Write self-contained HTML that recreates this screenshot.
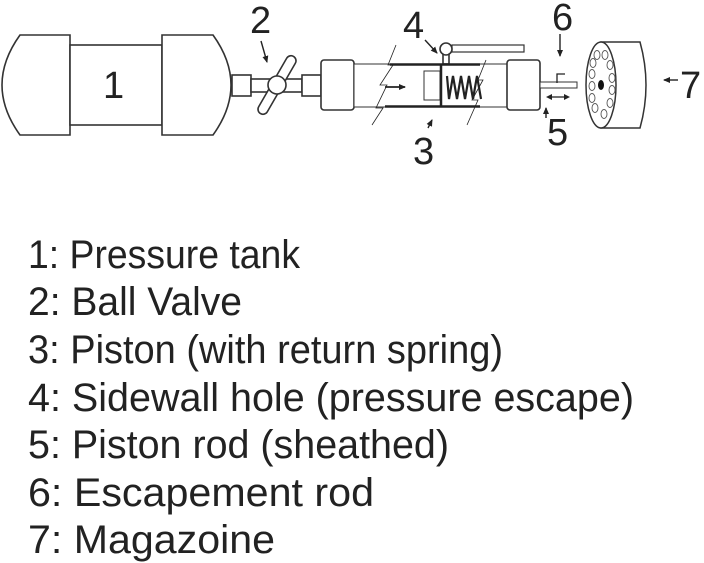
<!DOCTYPE html>
<html><head><style>
html,body{margin:0;padding:0;background:#fff;}
svg{display:block;}
text{font-family:"Liberation Sans",sans-serif;fill:#222;}
</style></head><body>
<svg width="704" height="563" viewBox="0 0 704 563" xmlns="http://www.w3.org/2000/svg">
<defs><marker id="ah" markerWidth="8" markerHeight="8" refX="6" refY="4" orient="auto" markerUnits="userSpaceOnUse"><path d="M0,1 L7,4 L0,7 Z" fill="#222"/></marker></defs>
<g fill="#fff" stroke="#333" stroke-width="1.6">
<path d="M70,35 L20,35 Q2,60 2,85 Q2,110 20,135 L70,135 Z"/>
<rect x="70" y="45" width="92" height="80"/>
<path d="M162,35 L213,35 Q231,60 231,85 Q231,110 213,135 L162,135 Z"/>
<rect x="232" y="75" width="19" height="21"/>
<rect x="251" y="79" width="51" height="13"/>
<rect x="302" y="75" width="19" height="21"/>
<rect x="272" y="52" width="10" height="66" rx="5" transform="rotate(30 277 85)"/>
<circle cx="277" cy="85" r="9"/>
<rect x="321" y="60" width="33" height="50" rx="3"/>
<rect x="354" y="64" width="153" height="43" stroke-width="1"/>
<rect x="507" y="60" width="33" height="50" rx="3"/>
<rect x="540" y="82" width="37" height="6" stroke-width="1"/>
<rect x="452" y="45" width="72" height="7" stroke-width="1.2"/>
<rect x="443" y="54" width="6" height="10"/>
<circle cx="446" cy="49" r="6"/>
<rect x="424" y="71" width="16" height="29" stroke-width="1"/>
</g>
<g stroke="#222" fill="none">
<line x1="390" y1="64.5" x2="480" y2="64.5" stroke-width="2.5"/>
<line x1="385" y1="106.5" x2="480" y2="106.5" stroke-width="2.5"/>
<line x1="441" y1="64" x2="441" y2="107" stroke-width="2.5"/>
<path d="M447,76 L449,99 L453,76 L457,99 L461,76 L465,99 L469,76 L473,99 L477,76 L481,99" stroke-width="2.2"/>
<path d="M396,45 L388,65 L393,65 L380,85 L387,85 L376,108 L383,108 L372,125" stroke-width="0.8"/>
<path d="M486,60 L478,80 L483,80 L472,100 L478,100 L467,125" stroke-width="0.8"/>
<line x1="385" y1="87" x2="405" y2="87" stroke-width="1.8" marker-end="url(#ah)"/>
<path d="M557,83 L557,74 L565,74" stroke-width="1.3"/>
<line x1="551" y1="97" x2="565" y2="97" stroke-width="1.3"/>
<line x1="560" y1="34" x2="560" y2="56" stroke-width="1.4" marker-end="url(#ah)"/>
<line x1="546" y1="118" x2="546" y2="108" stroke-width="1.4" marker-end="url(#ah)"/>
<line x1="425" y1="40" x2="437" y2="53" stroke-width="1.4" marker-end="url(#ah)"/>
<line x1="428" y1="128" x2="432" y2="120" stroke-width="1.4" marker-end="url(#ah)"/>
<line x1="261" y1="41" x2="267" y2="62" stroke-width="1.4" marker-end="url(#ah)"/>
<line x1="678" y1="80" x2="664" y2="80" stroke-width="1.4" marker-end="url(#ah)"/>
</g>
<path d="M546,97 L552,94 L552,100 Z M570,97 L564,94 L564,100 Z" fill="#222"/>
<g stroke="#333" stroke-width="1.5" fill="#fff">
<path d="M601,42 L640,42 Q652,85 640,128 L601,128 Z"/>
<ellipse cx="601" cy="85" rx="15" ry="43"/>
</g>
<g stroke="#555" stroke-width="0.9" fill="#fff">
<ellipse cx="597" cy="55" rx="3" ry="4.5"/><ellipse cx="605" cy="55" rx="3" ry="4.5"/>
<ellipse cx="593" cy="63" rx="3" ry="4.5"/><ellipse cx="610" cy="65" rx="3" ry="4.5"/>
<ellipse cx="592" cy="74" rx="3" ry="4.5"/><ellipse cx="612" cy="78" rx="3" ry="4.5"/>
<ellipse cx="592" cy="86" rx="3" ry="4.5"/><ellipse cx="612" cy="90" rx="3" ry="4.5"/>
<ellipse cx="592" cy="98" rx="3" ry="4.5"/><ellipse cx="610" cy="103" rx="3" ry="4.5"/>
<ellipse cx="595" cy="108" rx="3" ry="4.5"/><ellipse cx="604" cy="114" rx="3" ry="4.5"/>
</g>
<ellipse cx="601" cy="85" rx="3" ry="5" fill="#111"/>
<g font-size="38">
<text x="103" y="98">1</text>
<text x="250" y="33">2</text>
<text x="403" y="38">4</text>
<text x="413" y="164">3</text>
<text x="552" y="30">6</text>
<text x="547" y="145">5</text>
<text x="680" y="98">7</text>
</g>
<g font-size="40">
<text x="28" y="268" textLength="272" lengthAdjust="spacingAndGlyphs">1: Pressure tank</text>
<text x="28" y="315" textLength="214" lengthAdjust="spacingAndGlyphs">2: Ball Valve</text>
<text x="28" y="363" textLength="475" lengthAdjust="spacingAndGlyphs">3: Piston (with return spring)</text>
<text x="28" y="411" textLength="606" lengthAdjust="spacingAndGlyphs">4: Sidewall hole (pressure escape)</text>
<text x="28" y="458" textLength="421" lengthAdjust="spacingAndGlyphs">5: Piston rod (sheathed)</text>
<text x="28" y="506" textLength="346" lengthAdjust="spacingAndGlyphs">6: Escapement rod</text>
<text x="28" y="553" textLength="247" lengthAdjust="spacingAndGlyphs">7: Magazoine</text>
</g>
</svg>
</body></html>
